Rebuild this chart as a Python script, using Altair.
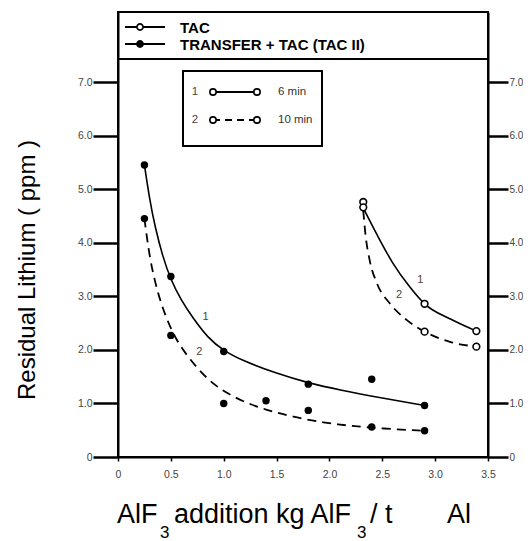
import altair as alt
import pandas as pd

# ---------------- data ----------------
# TRANSFER + TAC (TAC II): filled points
tac2_x = [0.25, 0.25, 0.5, 0.5, 1.0, 1.0, 1.4, 1.8, 1.8, 2.4, 2.4, 2.9, 2.9]
tac2_y = [5.45, 4.45, 3.37, 2.27, 1.97, 1.0, 1.05, 1.36, 0.87, 1.45, 0.56, 0.96, 0.49]
# TAC: open points
tac_x = [2.32, 2.32, 2.9, 2.9, 3.39, 3.39]
tac_y = [4.76, 4.66, 2.86, 2.34, 2.35, 2.06]

# fitted curves (1 = 6 min, solid; 2 = 10 min, dashed)
c1_tac2_x = [0.25, 0.3, 0.35, 0.42, 0.5, 0.6, 0.7, 0.85, 1.0, 1.2, 1.5, 1.8, 2.1, 2.5, 2.9]
c1_tac2_y = [5.45, 4.8, 4.3, 3.76, 3.3, 2.92, 2.62, 2.22, 1.98, 1.78, 1.56, 1.38, 1.25, 1.1, 0.96]
c2_tac2_x = [0.25, 0.3, 0.37, 0.45, 0.55, 0.68, 0.84, 1.0, 1.2, 1.4, 1.65, 1.95, 2.2, 2.5, 2.9]
c2_tac2_y = [4.45, 3.7, 3.1, 2.62, 2.18, 1.82, 1.46, 1.22, 1.02, 0.88, 0.75, 0.64, 0.58, 0.53, 0.49]
c1_tac_x = [2.32, 2.45, 2.6, 2.75, 2.9, 3.15, 3.39]
c1_tac_y = [4.65, 4.15, 3.62, 3.2, 2.86, 2.57, 2.35]
c2_tac_x = [2.32, 2.34, 2.38, 2.45, 2.57, 2.73, 2.9, 3.14, 3.39]
c2_tac_y = [4.6, 4.17, 3.68, 3.24, 2.87, 2.56, 2.34, 2.15, 2.06]

curve_label_text = ["1", "2", "1", "2"]
curve_label_x = [0.80, 0.74, 2.83, 2.63]
curve_label_y = [2.61, 1.96, 3.30, 3.02]

x_ticks = [0, 0.5, 1.0, 1.5, 2.0, 2.5, 3.0, 3.5]
y_ticks = [0, 1, 2, 3, 4, 5, 6, 7]

top_legend_labels = ["TAC", "TRANSFER + TAC (TAC II)"]
top_legend_filled = [False, True]
inner_legend_nums = ["1", "2"]
inner_legend_labels = ["6 min", "10 min"]
inner_legend_dashed = [False, True]

y_title = "Residual Lithium ( ppm )"
x_title_parts = ["AlF", "3", "addition kg AlF", "3", "/ t", "Al"]

# ---------------- chart ----------------
W, H = 370, 445
FONT = "Liberation Sans"
xs = alt.Scale(domain=[0, 3.5], nice=False, zero=False)
ys = alt.Scale(domain=[0, 8.307], nice=False, zero=False)
lab = "datum.value == 0 ? '0' : format(datum.value, '.1f')"

common_axis = dict(
    domainColor="black", domainWidth=2, tickColor="black", grid=False, title=None,
    labelFont=FONT, labelColor="#444", labelFlush=False,
    labelOverlap=False, labelExpr=lab,
)
x_axis = alt.Axis(orient="bottom", values=x_ticks, tickSize=4, tickWidth=1.5,
                  labelPadding=8, labelFontSize=10.5, **common_axis)
y_left = alt.Axis(orient="left", values=y_ticks, tickSize=25, tickWidth=2.5,
                  labelPadding=1, labelFontSize=10.5, **common_axis)
y_right = alt.Axis(orient="right", values=y_ticks, tickSize=20, tickWidth=2.5,
                   labelPadding=1, labelFontSize=10, **common_axis)

def curves(pairs):
    frames = []
    for i, (cx, cy) in enumerate(pairs):
        frames.append(pd.DataFrame({"x": cx, "y": cy, "c": i}))
    return pd.concat(frames, ignore_index=True)

s1_df = curves([(c1_tac2_x, c1_tac2_y)])
s2_df = curves([(c1_tac_x, c1_tac_y)])
d1_df = curves([(c2_tac2_x, c2_tac2_y)])
d2_df = curves([(c2_tac_x, c2_tac_y)])
filled_df = pd.DataFrame({"x": tac2_x, "y": tac2_y})
open_df = pd.DataFrame({"x": tac_x, "y": tac_y})
clab_df = pd.DataFrame({"x": curve_label_x, "y": curve_label_y, "t": curve_label_text})


def line(df, dashed, interp, xaxis=None, yaxis=None):
    kw = dict(color="black", strokeWidth=1.8 if dashed else 1.6, interpolate=interp)
    if dashed:
        kw["strokeDash"] = [9, 6]
    return alt.Chart(df).mark_line(**kw).encode(
        x=alt.X("x:Q", scale=xs, axis=xaxis),
        y=alt.Y("y:Q", scale=ys, axis=yaxis),
    )

solid1 = line(s1_df, False, "basis", xaxis=x_axis, yaxis=y_left)
solid2 = line(s2_df, False, "monotone")
dashed1 = line(d1_df, True, "basis")
dashed2 = line(d2_df, True, "monotone")

filled = alt.Chart(filled_df).mark_circle(color="black", size=55, opacity=1).encode(
    x=alt.X("x:Q", scale=xs, axis=None),
    y=alt.Y("y:Q", scale=ys, axis=y_right),
)
opened = alt.Chart(open_df).mark_point(shape="circle", filled=True, fill="white", stroke="black",
                                       strokeWidth=1.6, size=45, opacity=1).encode(
    x=alt.X("x:Q", scale=xs, axis=None),
    y=alt.Y("y:Q", scale=ys, axis=None),
)
clabels = alt.Chart(clab_df).mark_text(font=FONT, fontSize=11, color="#444", align="left").encode(
    x=alt.X("x:Q", scale=xs, axis=None),
    y=alt.Y("y:Q", scale=ys, axis=None),
    text="t:N",
)

one = alt.Data(values=[{"a": 1}])
deco = []
# header frame separator
deco.append(alt.Chart(one).mark_rule(color="black", strokeWidth=2).encode(
    x=alt.value(0), x2=alt.value(W), y=alt.value(47)))
# top legend
for i, (txt, fil) in enumerate(zip(top_legend_labels, top_legend_filled)):
    yy = 15 + i * 17
    deco.append(alt.Chart(one).mark_rule(color="black", strokeWidth=2.2).encode(
        x=alt.value(7), x2=alt.value(47), y=alt.value(yy)))
    deco.append(alt.Chart(one).mark_point(shape="circle", filled=True,
                                          fill="black" if fil else "white", stroke="black",
                                          strokeWidth=1.6, size=38, opacity=1).encode(
        x=alt.value(22), y=alt.value(yy)))
    deco.append(alt.Chart(one).mark_text(text=txt, font=FONT, fontWeight="bold", fontSize=15,
                                         align="left", baseline="middle", color="black").encode(
        x=alt.value(62), y=alt.value(yy + 1)))
# inner legend box
deco.append(alt.Chart(one).mark_rect(fillOpacity=0, stroke="black", strokeWidth=2).encode(
    x=alt.value(65), x2=alt.value(204), y=alt.value(59), y2=alt.value(134)))
for i, (num, txt, dsh) in enumerate(zip(inner_legend_nums, inner_legend_labels, inner_legend_dashed)):
    yy = 80 + i * 28
    deco.append(alt.Chart(one).mark_text(text=num, font=FONT, fontSize=11.5, color="#444",
                                         align="center", baseline="middle").encode(
        x=alt.value(77), y=alt.value(yy)))
    rule_kw = dict(color="black", strokeWidth=1.8)
    if dsh:
        rule_kw["strokeDash"] = [7, 5]
    deco.append(alt.Chart(one).mark_rule(**rule_kw).encode(
        x=alt.value(95), x2=alt.value(139), y=alt.value(yy)))
    for cx in (95, 139):
        deco.append(alt.Chart(one).mark_point(shape="circle", filled=True, fill="white",
                                              stroke="black", strokeWidth=1.6, size=40,
                                              opacity=1).encode(
            x=alt.value(cx), y=alt.value(yy)))
    deco.append(alt.Chart(one).mark_text(text=txt, font=FONT, fontSize=11.5, color="#333",
                                         align="left", baseline="middle").encode(
        x=alt.value(160), y=alt.value(yy)))

# axis titles
deco.append(alt.Chart(one).mark_text(text=y_title, font=FONT, fontSize=24, color="black",
                                     angle=270, align="center", baseline="alphabetic").encode(
    x=alt.value(-83), y=alt.value(258)))
x_pos = [-1, 42, 56, 239, 252, 329]
for part, px in zip(x_title_parts, x_pos):
    sub = part == "3"
    deco.append(alt.Chart(one).mark_text(text=part, font=FONT, fontSize=17 if sub else 27,
                                         color="black", align="left",
                                         baseline="alphabetic").encode(
        x=alt.value(px), y=alt.value(526 if sub else 511)))

chart = alt.layer(solid1, solid2, dashed1, dashed2, filled, opened, clabels, *deco).resolve_axis(
    x="independent", y="independent"
).properties(
    width=W, height=H,
    autosize=alt.AutoSizeParams(type="none"),
    padding={"left": 110, "top": 4, "right": 35, "bottom": 84},
).configure_view(stroke="black", strokeWidth=2)

chart.save("out.html", embed_options={"renderer": "svg", "actions": False})
